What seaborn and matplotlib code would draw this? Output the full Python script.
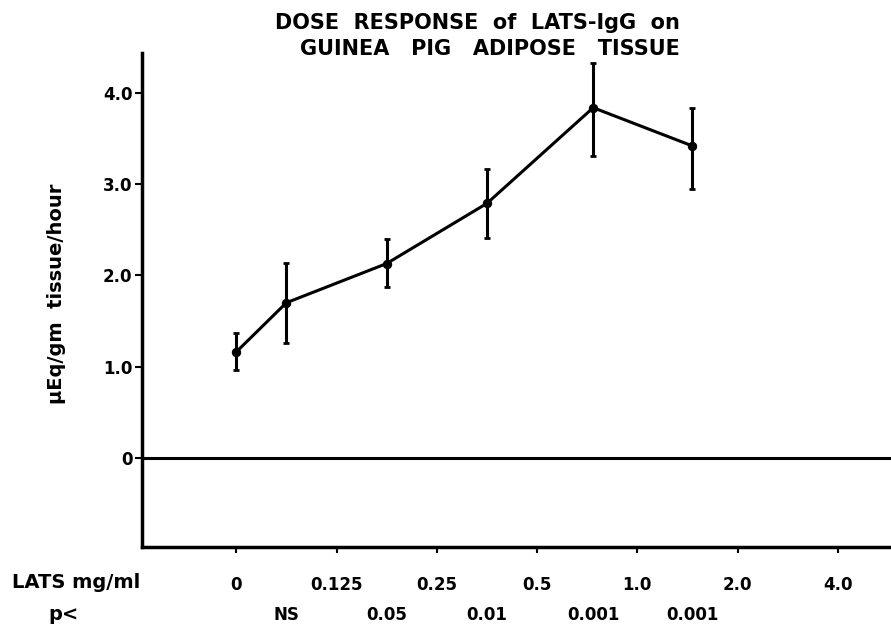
import matplotlib
matplotlib.use("Agg")
import matplotlib.pyplot as plt
import seaborn as sns
import pandas as pd

# ── data ─────────────────────────────────────────────────────────────────
dose_labels = ["0", "0.125", "0.25", "0.5", "1.0", "2.0", "4.0"]
dose_pos = [0, 1, 2, 3, 4, 5, 6]

# points sit between the dose ticks in the original print
x_pos = [0, 0.5, 1.5, 2.5, 3.56, 4.55]
mean_resp = [1.16, 1.70, 2.13, 2.79, 3.84, 3.42]
upper = [1.37, 2.14, 2.40, 3.17, 4.33, 3.84]
lower = [0.96, 1.26, 1.87, 2.41, 3.31, 2.95]

p_labels = ["NS", "0.05", "0.01", "0.001", "0.001"]

y_ticks = [0, 1, 2, 3, 4]
y_labels = ["0", "1.0", "2.0", "3.0", "4.0"]

sns.set_theme(style="white")
plt.rcParams["font.family"] = ["DejaVu Sans"]
plt.rcParams["font.weight"] = "bold"
plt.rcParams["text.color"] = "black"

df = pd.DataFrame({"x": x_pos, "y": mean_resp})

fig = plt.figure(figsize=(8.91, 6.31), dpi=100)
ax = fig.add_axes([142/891, 84/631, 1 - 142/891, 494/631])

err_lo = [m - l for m, l in zip(mean_resp, lower)]
err_hi = [u - m for m, u in zip(mean_resp, upper)]
ax.errorbar(x_pos, mean_resp, yerr=[err_lo, err_hi], fmt="none",
            ecolor="black", elinewidth=2.2, capsize=2.5, capthick=2)
sns.lineplot(data=df, x="x", y="y", ax=ax, color="black", linewidth=2.2,
             marker="o", markersize=6, markeredgecolor="black")

ax.axhline(0, color="black", linewidth=2.2)

ax.set_xlim(-0.94, 6.53)
ax.set_ylim(-0.98, 4.44)
ax.set_xticks(dose_pos)
ax.set_xticklabels(dose_labels)
ax.set_yticks(y_ticks)
ax.set_yticklabels(y_labels)
ax.set_xlabel("")
ax.set_ylabel("")

for s in ["top", "right"]:
    ax.spines[s].set_visible(False)
for s in ["left", "bottom"]:
    ax.spines[s].set_color("black")
    ax.spines[s].set_linewidth(2.5)

ax.tick_params(axis="y", direction="out", length=5, width=1.5, pad=2,
               labelsize=12, left=True, colors="black")
ax.tick_params(axis="x", direction="out", length=4, width=1.5, pad=17,
               labelsize=12, bottom=True, colors="black")
for t in ax.get_xticklabels() + ax.get_yticklabels():
    t.set_fontweight("bold")

# p values under each dose point
for xp, lab in zip(x_pos[1:], p_labels):
    ax.text(xp, -0.1376, lab, transform=ax.get_xaxis_transform(),
            ha="center", va="center", fontsize=12, fontweight="bold",
            color="black")

fig.text(12/891, 1 - 582/631, "LATS mg/ml", ha="left", va="center",
         fontsize=14, fontweight="bold", color="black")
fig.text(48/891, 1 - 615/631, "p<", ha="left", va="center",
         fontsize=14, fontweight="bold", color="black")

fig.text(57/891, 1 - 294/631, "μEq/gm  tissue/hour", rotation=90,
         ha="center", va="center", fontsize=14, fontweight="bold",
         color="black")

fig.text(680/891, 1 - 36/631,
         "DOSE  RESPONSE  of  LATS-IgG  on\nGUINEA   PIG   ADIPOSE   TISSUE",
         ha="right", va="center", multialignment="right",
         fontsize=15, fontweight="bold", linespacing=1.4, color="black")

fig.savefig("out.png", dpi=100)
